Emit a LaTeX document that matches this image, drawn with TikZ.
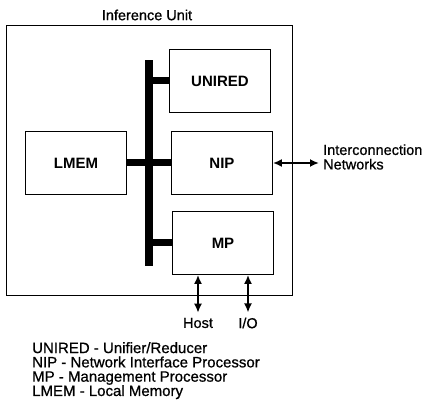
\documentclass[tikz,border=0pt]{standalone}
\usepackage{fontspec}
\setmainfont{Liberation Sans}
\newfontfamily\medfont{Liberation Sans}[FakeBold=0.8]
\usetikzlibrary{arrows.meta}

\tikzset{
    unitbox/.style={draw,thick,minimum width=101pt,minimum height=63pt,
        font=\fontsize{15}{15}\selectfont\bfseries},
    busline/.style={line width=7pt},
    dbarrow/.style={line width=1.8pt,{Latex[length=9pt,width=8pt]}-{Latex[length=9pt,width=8pt]}}
}

\begin{document}
\begin{tikzpicture}[x=1pt,y=-1pt]
        \useasboundingbox (0,0) rectangle (424,404);
        \begin{scope}[every node/.style={font=\fontsize{14.5}{14.5}\selectfont\medfont}]
            \node (title) at (147,15) {Inference Unit};
            \node[draw,thick,minimum width=286pt,minimum height=270pt] (unit) at (149,160) {};
            \node[unitbox] (unired) at (220,81) {UNIRED};
            \node[unitbox] (nip) at (222,163) {NIP};
            \node[unitbox] (mp) at (223,243) {MP};
            \node[unitbox] (lmem) at (76,163) {LMEM};
            \node[fill,inner sep=0pt,minimum width=8pt,minimum height=206pt] (bus) at (149,163) {};
            \node[anchor=west,align=left,inner sep=4pt] (net) at (319,157)
                {Interconnection\\Networks};
            \node[inner sep=5pt] (host) at (198,323) {Host};
            \node[inner sep=5pt] (io) at (248,323) {I/O};
            \node[anchor=north west,align=left,inner sep=0pt,
                font=\fontsize{15}{14.3}\selectfont\medfont] (legend) at (32,342)
                {UNIRED - Unifier/Reducer\\
                 NIP - Network Interface Processor\\
                 MP - Management Processor\\
                 LMEM - Local Memory};
        \end{scope}

        \draw[busline] (lmem.east) -- (nip.west);
        \draw[busline] (bus.center |- unired.west) -- (unired.west);
        \draw[busline] (bus.center |- mp.west) -- (mp.west);

        \draw[dbarrow] (nip.east) -- (nip.east -| net.west);
        \draw[dbarrow] (mp.south -| host.north) -- (host.north);
        \draw[dbarrow] (mp.south -| io.north) -- (io.north);
    \end{tikzpicture}
\end{document}
